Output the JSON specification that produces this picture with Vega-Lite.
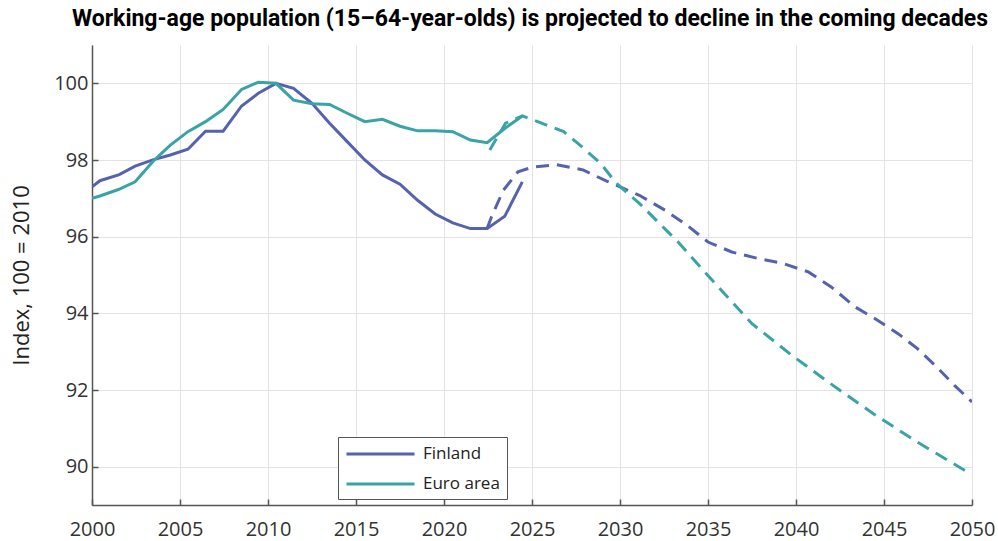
{
  "$schema": "https://vega.github.io/schema/vega-lite/v6.json",
  "width": 880,
  "height": 460,
  "autosize": {"type": "none"},
  "padding": {"left": 92, "top": 45, "right": 26, "bottom": 36},
  "background": "white",
  "title": {
    "text": "Working-age population (15–64-year-olds) is projected to decline in the coming decades",
    "font": "Roboto",
    "fontSize": 23,
    "fontWeight": "bold",
    "color": "#000000",
    "anchor": "middle",
    "baseline": "alphabetic",
    "offset": 16,
    "dy": 20,
    "dx": -2
  },
  "config": {
    "view": {"stroke": null},
    "axis": {
      "labelFont": "Open Sans",
      "labelFontSize": 20,
      "labelColor": "#333333",
      "titleFont": "Open Sans",
      "titleFontSize": 22,
      "titleFontWeight": "normal",
      "titleColor": "#222222",
      "gridColor": "#e3e3e3",
      "gridWidth": 1,
      "domainColor": "#555555",
      "domainWidth": 1.5,
      "tickColor": "#555555",
      "tickWidth": 1.5
    },
    "legend": {
      "labelFont": "Open Sans",
      "labelFontSize": 17,
      "labelColor": "#222222"
    }
  },
  "datasets": {
    "pop": [
      {"year": 2000.0, "value": 97.30, "series": "Finland", "phase": "hist"},
      {"year": 2000.45, "value": 97.46, "series": "Finland", "phase": "hist"},
      {"year": 2001.55, "value": 97.62, "series": "Finland", "phase": "hist"},
      {"year": 2002.45, "value": 97.84, "series": "Finland", "phase": "hist"},
      {"year": 2003.5, "value": 98.01, "series": "Finland", "phase": "hist"},
      {"year": 2004.45, "value": 98.13, "series": "Finland", "phase": "hist"},
      {"year": 2005.45, "value": 98.28, "series": "Finland", "phase": "hist"},
      {"year": 2006.45, "value": 98.75, "series": "Finland", "phase": "hist"},
      {"year": 2007.45, "value": 98.75, "series": "Finland", "phase": "hist"},
      {"year": 2008.5, "value": 99.41, "series": "Finland", "phase": "hist"},
      {"year": 2009.45, "value": 99.74, "series": "Finland", "phase": "hist"},
      {"year": 2010.45, "value": 100.0, "series": "Finland", "phase": "hist"},
      {"year": 2011.45, "value": 99.87, "series": "Finland", "phase": "hist"},
      {"year": 2012.5, "value": 99.48, "series": "Finland", "phase": "hist"},
      {"year": 2013.5, "value": 98.96, "series": "Finland", "phase": "hist"},
      {"year": 2014.5, "value": 98.48, "series": "Finland", "phase": "hist"},
      {"year": 2015.5, "value": 98.0, "series": "Finland", "phase": "hist"},
      {"year": 2016.5, "value": 97.61, "series": "Finland", "phase": "hist"},
      {"year": 2017.5, "value": 97.37, "series": "Finland", "phase": "hist"},
      {"year": 2018.5, "value": 96.95, "series": "Finland", "phase": "hist"},
      {"year": 2019.5, "value": 96.59, "series": "Finland", "phase": "hist"},
      {"year": 2020.5, "value": 96.36, "series": "Finland", "phase": "hist"},
      {"year": 2021.5, "value": 96.21, "series": "Finland", "phase": "hist"},
      {"year": 2022.45, "value": 96.21, "series": "Finland", "phase": "hist"},
      {"year": 2023.45, "value": 96.53, "series": "Finland", "phase": "hist"},
      {"year": 2024.45, "value": 97.43, "series": "Finland", "phase": "hist"},
      {"year": 2000.0, "value": 97.0, "series": "Euro area", "phase": "hist"},
      {"year": 2000.45, "value": 97.06, "series": "Euro area", "phase": "hist"},
      {"year": 2001.5, "value": 97.23, "series": "Euro area", "phase": "hist"},
      {"year": 2002.45, "value": 97.43, "series": "Euro area", "phase": "hist"},
      {"year": 2003.5, "value": 97.98, "series": "Euro area", "phase": "hist"},
      {"year": 2004.45, "value": 98.39, "series": "Euro area", "phase": "hist"},
      {"year": 2005.45, "value": 98.74, "series": "Euro area", "phase": "hist"},
      {"year": 2006.45, "value": 99.0, "series": "Euro area", "phase": "hist"},
      {"year": 2007.45, "value": 99.32, "series": "Euro area", "phase": "hist"},
      {"year": 2008.5, "value": 99.84, "series": "Euro area", "phase": "hist"},
      {"year": 2009.45, "value": 100.03, "series": "Euro area", "phase": "hist"},
      {"year": 2010.45, "value": 100.0, "series": "Euro area", "phase": "hist"},
      {"year": 2011.45, "value": 99.56, "series": "Euro area", "phase": "hist"},
      {"year": 2012.5, "value": 99.47, "series": "Euro area", "phase": "hist"},
      {"year": 2013.5, "value": 99.45, "series": "Euro area", "phase": "hist"},
      {"year": 2014.5, "value": 99.22, "series": "Euro area", "phase": "hist"},
      {"year": 2015.5, "value": 99.0, "series": "Euro area", "phase": "hist"},
      {"year": 2016.5, "value": 99.06, "series": "Euro area", "phase": "hist"},
      {"year": 2017.5, "value": 98.88, "series": "Euro area", "phase": "hist"},
      {"year": 2018.5, "value": 98.76, "series": "Euro area", "phase": "hist"},
      {"year": 2019.5, "value": 98.76, "series": "Euro area", "phase": "hist"},
      {"year": 2020.5, "value": 98.74, "series": "Euro area", "phase": "hist"},
      {"year": 2021.5, "value": 98.52, "series": "Euro area", "phase": "hist"},
      {"year": 2022.45, "value": 98.45, "series": "Euro area", "phase": "hist"},
      {"year": 2023.45, "value": 98.82, "series": "Euro area", "phase": "hist"},
      {"year": 2024.45, "value": 99.15, "series": "Euro area", "phase": "hist"},
      {"year": 2022.45, "value": 96.21, "series": "Finland", "phase": "proj"},
      {"year": 2022.7, "value": 96.52, "series": "Finland", "phase": "proj"},
      {"year": 2023.37, "value": 97.21, "series": "Finland", "phase": "proj"},
      {"year": 2024.2, "value": 97.69, "series": "Finland", "phase": "proj"},
      {"year": 2025.0, "value": 97.81, "series": "Finland", "phase": "proj"},
      {"year": 2026.4, "value": 97.88, "series": "Finland", "phase": "proj"},
      {"year": 2027.9, "value": 97.74, "series": "Finland", "phase": "proj"},
      {"year": 2029.24, "value": 97.45, "series": "Finland", "phase": "proj"},
      {"year": 2030.0, "value": 97.30, "series": "Finland", "phase": "proj"},
      {"year": 2031.1, "value": 97.08, "series": "Finland", "phase": "proj"},
      {"year": 2032.56, "value": 96.69, "series": "Finland", "phase": "proj"},
      {"year": 2033.8, "value": 96.30, "series": "Finland", "phase": "proj"},
      {"year": 2035.0, "value": 95.86, "series": "Finland", "phase": "proj"},
      {"year": 2036.35, "value": 95.60, "series": "Finland", "phase": "proj"},
      {"year": 2037.86, "value": 95.43, "series": "Finland", "phase": "proj"},
      {"year": 2039.28, "value": 95.30, "series": "Finland", "phase": "proj"},
      {"year": 2040.7, "value": 95.08, "series": "Finland", "phase": "proj"},
      {"year": 2042.0, "value": 94.69, "series": "Finland", "phase": "proj"},
      {"year": 2043.35, "value": 94.17, "series": "Finland", "phase": "proj"},
      {"year": 2044.5, "value": 93.86, "series": "Finland", "phase": "proj"},
      {"year": 2045.8, "value": 93.47, "series": "Finland", "phase": "proj"},
      {"year": 2046.9, "value": 93.08, "series": "Finland", "phase": "proj"},
      {"year": 2048.0, "value": 92.60, "series": "Finland", "phase": "proj"},
      {"year": 2049.0, "value": 92.12, "series": "Finland", "phase": "proj"},
      {"year": 2050.0, "value": 91.69, "series": "Finland", "phase": "proj"},
      {"year": 2022.6, "value": 98.26, "series": "Euro area", "phase": "proj"},
      {"year": 2023.5, "value": 98.96, "series": "Euro area", "phase": "proj"},
      {"year": 2024.45, "value": 99.15, "series": "Euro area", "phase": "proj"},
      {"year": 2025.1, "value": 99.04, "series": "Euro area", "phase": "proj"},
      {"year": 2025.83, "value": 98.91, "series": "Euro area", "phase": "proj"},
      {"year": 2026.8, "value": 98.74, "series": "Euro area", "phase": "proj"},
      {"year": 2027.9, "value": 98.32, "series": "Euro area", "phase": "proj"},
      {"year": 2028.9, "value": 97.91, "series": "Euro area", "phase": "proj"},
      {"year": 2029.8, "value": 97.39, "series": "Euro area", "phase": "proj"},
      {"year": 2031.1, "value": 96.87, "series": "Euro area", "phase": "proj"},
      {"year": 2033.3, "value": 95.86, "series": "Euro area", "phase": "proj"},
      {"year": 2035.4, "value": 94.78, "series": "Euro area", "phase": "proj"},
      {"year": 2037.5, "value": 93.73, "series": "Euro area", "phase": "proj"},
      {"year": 2039.75, "value": 92.91, "series": "Euro area", "phase": "proj"},
      {"year": 2042.1, "value": 92.12, "series": "Euro area", "phase": "proj"},
      {"year": 2044.4, "value": 91.38, "series": "Euro area", "phase": "proj"},
      {"year": 2046.9, "value": 90.64, "series": "Euro area", "phase": "proj"},
      {"year": 2049.6, "value": 89.90, "series": "Euro area", "phase": "proj"},
      {"year": 2050.0, "value": 89.85, "series": "Euro area", "phase": "proj"}
    ]
  },
  "data": {"name": "pop"},
  "encoding": {
    "x": {
      "field": "year",
      "type": "quantitative",
      "scale": {"domain": [2000, 2050], "nice": false, "zero": false},
      "axis": {
        "title": null,
        "values": [2000, 2005, 2010, 2015, 2020, 2025, 2030, 2035, 2040, 2045, 2050],
        "format": "d",
        "tickSize": -6,
        "labelPadding": 20,
        "labelFlush": false
      }
    },
    "y": {
      "field": "value",
      "type": "quantitative",
      "scale": {"domain": [89, 101], "nice": false, "zero": false},
      "axis": {
        "title": "Index, 100 = 2010",
        "values": [90, 92, 94, 96, 98, 100],
        "tickSize": -6,
        "labelPadding": 10,
        "titlePadding": 20
      }
    },
    "color": {
      "field": "series",
      "type": "nominal",
      "scale": {"domain": ["Finland", "Euro area"], "range": ["#5563ad", "#3aa3a6"]}
    }
  },
  "layer": [
    {
      "transform": [{"filter": "datum.phase == 'hist'"}],
      "mark": {"type": "line", "strokeWidth": 3, "clip": true},
      "encoding": {
        "color": {
          "field": "series",
          "type": "nominal",
          "scale": {"domain": ["Finland", "Euro area"], "range": ["#5563ad", "#3aa3a6"]},
          "legend": {
            "title": null,
            "orient": "none",
            "legendX": 246,
            "legendY": 392,
            "symbolType": "M-1,0H7",
            "symbolSize": 289,
            "symbolStrokeWidth": 3,
            "symbolFillColor": "transparent",
            "strokeColor": "#555555",
            "fillColor": "white",
            "padding": 7,
            "rowPadding": 12,
            "labelOffset": 58
          }
        }
      }
    },
    {
      "transform": [{"filter": "datum.phase == 'proj'"}],
      "mark": {"type": "line", "strokeWidth": 3, "strokeDash": [13, 8], "clip": true},
      "encoding": {
        "color": {"field": "series", "type": "nominal", "legend": null}
      }
    }
  ]
}
